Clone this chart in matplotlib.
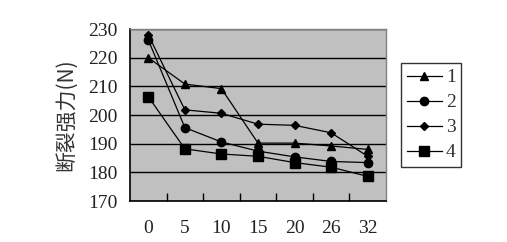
import numpy as np
import matplotlib.pyplot as plt

# === DATA ===
categories = ["0", "5", "10", "15", "20", "26", "32"]
s1 = [220, 210.8, 209.2, 190.2, 190.2, 189.2, 188.0]
s2 = [226.2, 195.6, 190.6, 187.4, 185.4, 183.8, 183.4]
s3 = [228.0, 201.8, 200.6, 196.8, 196.4, 193.8, 185.6]
s4 = [206.4, 188.2, 186.4, 185.6, 183.4, 181.8, 178.6]
labels = ["1", "2", "3", "4"]
yticks = [170, 180, 190, 200, 210, 220, 230]

plt.rcParams['font.family'] = ['Liberation Serif', 'Noto Sans CJK SC']

fig = plt.figure(figsize=(5.07, 2.42), dpi=100)
ax = fig.add_axes([0.2564, 0.1694, 0.5049, 0.7107])
ax.set_facecolor("#c0c0c0")

x = np.arange(len(categories))
styles = [("^", 6.0), ("o", 6.0), ("D", 4.5), ("s", 7.0)]
for ys, lab, (m, ms) in zip([s1, s2, s3, s4], labels, styles):
    ax.plot(x, ys, color="black", lw=0.9, marker=m, ms=ms,
            markerfacecolor="black", markeredgecolor="black", label=lab)

ax.set_xlim(-0.5, len(categories) - 0.5)
ax.set_ylim(170, 230)
ax.set_yticks(yticks)
ax.set_xticks(x)
ax.set_xticklabels(categories)
ax.set_xticks(np.arange(0.5, len(categories) - 1, 1.0), minor=True)
ax.tick_params(axis="x", which="major", length=0, pad=14, labelsize=14, colors="#222222")
ax.tick_params(axis="x", which="minor", direction="in", length=6, width=1, color="black")
ax.tick_params(axis="y", length=0, pad=9, labelsize=14, colors="#222222")
ax.yaxis.grid(True, color="black", lw=1)
ax.set_axisbelow(True)

for side in ["left", "bottom"]:
    ax.spines[side].set_color("black")
    ax.spines[side].set_linewidth(1.2)
for side in ["top", "right"]:
    ax.spines[side].set_color("#808080")
    ax.spines[side].set_linewidth(1)

ax.set_ylabel("断裂强力(N)", fontsize=15, color="#333333", labelpad=8,
              family=['Noto Sans CJK SC', 'Liberation Serif'])

leg = fig.legend(loc="upper left", bbox_to_anchor=(0.791, 0.74), frameon=True,
                 fancybox=False, edgecolor="black", fontsize=14, handlelength=1.8,
                 labelspacing=0.38, borderpad=0.3, handletextpad=0.2,
                 borderaxespad=0)
leg.get_frame().set_linewidth(1)
for t in leg.get_texts():
    t.set_color("#333333")

fig.savefig("out.png", dpi=100)
